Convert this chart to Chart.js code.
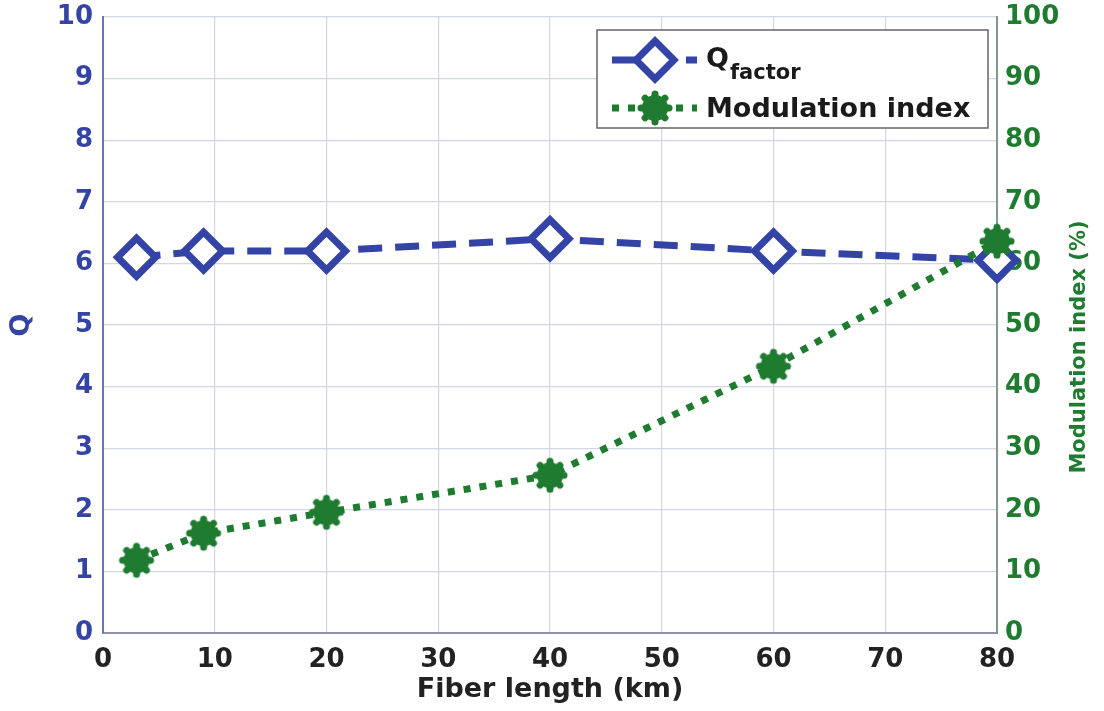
<!DOCTYPE html>
<html>
<head>
<meta charset="utf-8">
<script src="https://cdn.jsdelivr.net/npm/chart.js@4/dist/chart.umd.min.js"></script>
<style>
body { margin:0; background:#fff; }
#wrap { width:1104px; height:711px; }
</style>
</head>
<body>
<div id="wrap"><canvas id="chart1" width="1104" height="711"></canvas></div>
<script>
// fiber length (km) and the two measured series
const fiber_km   = [3, 9, 20, 40, 60, 80];
const q_factor   = [6.1, 6.2, 6.2, 6.4, 6.2, 6.05];
const mod_index  = [11.8, 16.2, 19.6, 25.6, 43.3, 63.6];   // %
const x_ticks    = [0, 10, 20, 30, 40, 50, 60, 70, 80];
const q_ticks    = [0, 1, 2, 3, 4, 5, 6, 7, 8, 9, 10];
const mod_ticks  = [0, 10, 20, 30, 40, 50, 60, 70, 80, 90, 100];

const BLUE = '#3343a6';
const GREEN = '#1e7b30';
const FONT = '"DejaVu Sans", "Liberation Sans", Arial, sans-serif';

// big markers would otherwise push the plot area inwards
Chart.registry.getController('line').prototype.getMaxOverflow = function() { return 0; };

// green blob marker (matlab '*' style, thick)
function makeStar() {
	const c = document.createElement('canvas');
	c.width = 38; c.height = 38;
	const g = c.getContext('2d');
	g.translate(19, 19);
	g.fillStyle = GREEN;
	g.strokeStyle = GREEN;
	g.lineWidth = 7;
	g.lineCap = 'round';
	for(let i=0; i<8; i++) {
		const a = i * Math.PI / 4;
		g.beginPath();
		g.moveTo(0, 0);
		g.lineTo(Math.cos(a) * 14, Math.sin(a) * 14);
		g.stroke();
	}
	g.beginPath();
	g.arc(0, 0, 13, 0, Math.PI * 2);
	g.fill();
	return c;
}
const starImg = makeStar();

function drawDiamond(ctx, x, y, r) {
	ctx.beginPath();
	ctx.moveTo(x - r, y);
	ctx.lineTo(x, y - r);
	ctx.lineTo(x + r, y);
	ctx.lineTo(x, y + r);
	ctx.closePath();
	ctx.fillStyle = '#fff';
	ctx.fill();
	ctx.lineWidth = 7;
	ctx.strokeStyle = BLUE;
	ctx.stroke();
}

// legend box with subscript + right axis title (reads bottom to top)
const extrasPlugin = {
	id: 'extras',
	afterDraw(chart) {
		const ctx = chart.ctx;
		const a = chart.chartArea;
		ctx.save();

		const bx = a.right - 400, by = a.top + 13, bw = 391, bh = 98;
		ctx.fillStyle = '#fff';
		ctx.fillRect(bx, by, bw, bh);
		ctx.strokeStyle = '#666';
		ctx.lineWidth = 1.5;
		ctx.strokeRect(bx, by, bw, bh);

		// row 1 : Q factor
		let ry = by + 30;
		ctx.setLineDash([24, 13]);
		ctx.lineWidth = 7;
		ctx.strokeStyle = BLUE;
		ctx.beginPath();
		ctx.moveTo(bx + 15, ry);
		ctx.lineTo(bx + 100, ry);
		ctx.stroke();
		ctx.setLineDash([]);
		drawDiamond(ctx, bx + 58, ry, 19);

		ctx.fillStyle = '#1a1a1a';
		ctx.textAlign = 'left';
		ctx.textBaseline = 'alphabetic';
		ctx.font = 'bold 27px ' + FONT;
		ctx.fillText('Q', bx + 109, ry + 7);
		const wq = ctx.measureText('Q').width;
		ctx.font = 'bold 21px ' + FONT;
		ctx.fillText('factor', bx + 109 + wq + 1, ry + 19);

		// row 2 : modulation index
		ry = by + 78;
		ctx.setLineDash([7, 9]);
		ctx.lineWidth = 7;
		ctx.strokeStyle = GREEN;
		ctx.beginPath();
		ctx.moveTo(bx + 15, ry);
		ctx.lineTo(bx + 100, ry);
		ctx.stroke();
		ctx.setLineDash([]);
		ctx.drawImage(starImg, bx + 58 - 19, ry - 19);
		ctx.fillStyle = '#1a1a1a';
		ctx.font = 'bold 27px ' + FONT;
		ctx.fillText('Modulation index', bx + 109, ry + 9);

		// right axis title
		ctx.translate(chart.width - 24, (a.top + a.bottom) / 2 + 22);
		ctx.rotate(-Math.PI / 2);
		ctx.textAlign = 'center';
		ctx.textBaseline = 'middle';
		ctx.fillStyle = GREEN;
		ctx.font = 'bold 21px ' + FONT;
		ctx.fillText('Modulation index (%)', 0, 0);
		ctx.restore();
	}
};

function fixVertical(w) {
	return s => {
		s.width = w;
		s.paddingTop = 0;
		s.paddingBottom = 0;
	};
}

function draw() {
	const qData = fiber_km.map((x, i) => ({x: x, y: q_factor[i]}));
	const mData = fiber_km.map((x, i) => ({x: x, y: mod_index[i]}));

	const myChart = new Chart('chart1', {
		type: 'line',
		data: {
			datasets: [
			{
				label: 'Q factor',
				data: qData,
				yAxisID: 'y',
				borderColor: BLUE,
				borderWidth: 7,
				borderDash: [24, 13],
				pointStyle: 'rectRot',
				pointRadius: 19,
				pointBorderWidth: 7,
				pointBorderColor: BLUE,
				pointBackgroundColor: '#fff',
				fill: false,
				clip: false,
				order: 1
			},
			{
				label: 'Modulation index',
				data: mData,
				yAxisID: 'y2',
				borderColor: GREEN,
				borderWidth: 7,
				borderDash: [7, 9],
				pointStyle: starImg,
				fill: false,
				clip: false,
				order: 0
			}]
		},
		options: {
			responsive: false,
			animation: false,
			layout: { padding: { top: 17, left: 0, right: 0, bottom: 0 } },
			scales: {
				x: {
					type: 'linear',
					min: 0,
					max: 80,
					afterFit: s => { s.height = 78; s.paddingLeft = 0; s.paddingRight = 0; },
					afterBuildTicks: s => { s.ticks = x_ticks.map(v => ({value: v})); },
					ticks: {
						color: '#222',
						padding: 12,
						maxRotation: 0,
						font: { family: FONT, size: 26, weight: 'bold' }
					},
					grid: { color: '#d4d6e6', lineWidth: 1.2, drawTicks: false },
					border: { color: '#8e92aa', width: 2 },
					title: {
						display: true,
						text: 'Fiber length (km)',
						color: '#222',
						padding: { top: 0, bottom: 5 },
						font: { family: FONT, size: 27, weight: 'bold' }
					}
				},
				y: {
					position: 'left',
					min: 0,
					max: 10,
					afterFit: fixVertical(103),
					afterBuildTicks: s => { s.ticks = q_ticks.map(v => ({value: v})); },
					ticks: {
						color: BLUE,
						padding: 10,
						font: { family: FONT, size: 26, weight: 'bold' }
					},
					grid: { color: '#d4d6e6', lineWidth: 1.2, drawTicks: false },
					border: { color: '#6a72b4', width: 2 },
					title: {
						display: true,
						text: 'Q',
						color: BLUE,
						padding: { top: 6, bottom: 0 },
						font: { family: FONT, size: 27, weight: 'bold' }
					}
				},
				y2: {
					position: 'right',
					min: 0,
					max: 100,
					afterFit: fixVertical(107),
					afterBuildTicks: s => { s.ticks = mod_ticks.map(v => ({value: v})); },
					ticks: {
						color: GREEN,
						padding: 8,
						font: { family: FONT, size: 26, weight: 'bold' }
					},
					grid: { display: false, drawTicks: false },
					border: { color: '#7f9a8a', width: 2 }
				}
			},
			plugins: {
				legend: { display: false },
				tooltip: { enabled: false }
			}
		},
		plugins: [extrasPlugin]
	});
}
draw();
</script>
</body>
</html>
